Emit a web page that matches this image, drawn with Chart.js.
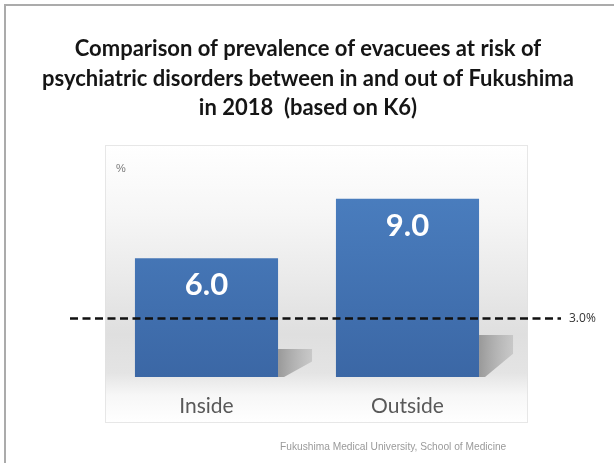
<!DOCTYPE html>
<html>
<head>
<meta charset="utf-8">
<script src="https://cdn.jsdelivr.net/npm/chart.js@4/dist/chart.umd.min.js"></script>
<style>
  html, body { margin: 0; padding: 0; background: #ffffff; }
  #wrap { width: 614px; height: 463px; }
</style>
</head>
<body>
<div id="wrap"><canvas id="c" width="614" height="463"></canvas></div>
<script>
// Data
const categories = ['Inside', 'Outside'];
const prevalence = [6.0, 9.0];
const referenceLevel = 3.0;
const referenceLabel = '3.0%';
const titleLines = [
  'Comparison of prevalence of evacuees at risk of',
  'psychiatric disorders between in and out of Fukushima',
  'in 2018  (based on K6)'
];
const unitLabel = '%';
const sourceNote = 'Fukushima Medical University, School of Medicine';

// Light frame around the slide and the centred title block
const framePlugin = {
  id: 'frame',
  beforeDraw(chart) {
    const ctx = chart.ctx;
    ctx.save();
    ctx.fillStyle = '#ffffff';
    ctx.fillRect(0, 0, chart.width, chart.height);
    ctx.strokeStyle = '#ababab';
    ctx.lineWidth = 2;
    ctx.beginPath();
    ctx.moveTo(5, chart.height);
    ctx.lineTo(5, 5);
    ctx.lineTo(chart.width, 5);
    ctx.stroke();

    ctx.fillStyle = '#151515';
    ctx.font = 'bold 22px Lato, sans-serif';
    ctx.textAlign = 'center';
    ctx.textBaseline = 'middle';
    titleLines.forEach((line, i) => {
      ctx.fillText(line, chart.width / 2 + 1, 49 + i * 29.5);
    });
    ctx.restore();
  }
};

// Soft gradient panel behind the plot
const panelPlugin = {
  id: 'panel',
  beforeDraw(chart) {
    const { ctx, chartArea } = chart;
    if (!chartArea) return;
    const x0 = chartArea.left - 1, x1 = chartArea.right + 20;
    const y0 = chartArea.top - 34, y1 = chartArea.bottom + 46;
    ctx.save();
    const g = ctx.createLinearGradient(0, y0, 0, y1);
    g.addColorStop(0, '#ffffff');
    g.addColorStop(0.25, '#f6f6f6');
    g.addColorStop(0.5, '#e9e9e9');
    g.addColorStop(0.68, '#dfdfdf');
    g.addColorStop(0.82, '#e4e4e4');
    g.addColorStop(0.9, '#f7f7f7');
    g.addColorStop(1, '#ffffff');
    ctx.fillStyle = g;
    ctx.fillRect(x0, y0, x1 - x0, y1 - y0);
    ctx.strokeStyle = 'rgba(225,225,225,0.8)';
    ctx.lineWidth = 1;
    ctx.strokeRect(x0 + 0.5, y0 + 0.5, x1 - x0 - 1, y1 - y0 - 1);

    // unit label
    ctx.fillStyle = '#7a7a7a';
    ctx.font = '11px "Liberation Sans", Arial, sans-serif';
    ctx.textAlign = 'left';
    ctx.textBaseline = 'middle';
    ctx.fillText(unitLabel, x0 + 11, y0 + 24);
    ctx.restore();
  },
  // perspective shadows cast to the right of each bar
  beforeDatasetsDraw(chart) {
    const ctx = chart.ctx;
    const meta = chart.getDatasetMeta(0);
    ctx.save();
    meta.data.forEach(bar => {
      const right = bar.x + bar.width / 2;
      const h = bar.base - bar.y;
      const top = bar.base - h * 0.235;
      const mid = bar.base - h * 0.13;
      const w = 34;
      const sg = ctx.createLinearGradient(right, 0, right + w, 0);
      sg.addColorStop(0, 'rgba(145,145,145,0.9)');
      sg.addColorStop(1, 'rgba(180,180,180,0.55)');
      ctx.fillStyle = sg;
      ctx.beginPath();
      ctx.moveTo(right, top);
      ctx.lineTo(right + w, top);
      ctx.lineTo(right + w, mid);
      ctx.lineTo(right + 6, bar.base);
      ctx.lineTo(right, bar.base);
      ctx.closePath();
      ctx.fill();
    });
    ctx.restore();
  }
};

// Value labels, reference line and source note
const overlayPlugin = {
  id: 'overlay',
  afterDatasetsDraw(chart) {
    const ctx = chart.ctx;
    const yScale = chart.scales.y;
    const meta = chart.getDatasetMeta(0);
    ctx.save();
    ctx.fillStyle = '#ffffff';
    ctx.font = 'bold 31px Lato, sans-serif';
    ctx.textAlign = 'center';
    ctx.textBaseline = 'middle';
    meta.data.forEach((bar, i) => {
      ctx.fillText(prevalence[i].toFixed(1), bar.x, bar.y + 27);
    });

    const yRef = Math.round(yScale.getPixelForValue(referenceLevel)) + 0.5;
    ctx.strokeStyle = '#111111';
    ctx.lineWidth = 2.6;
    ctx.setLineDash([8, 4.5]);
    ctx.beginPath();
    ctx.moveTo(70, yRef);
    ctx.lineTo(561, yRef);
    ctx.stroke();
    ctx.setLineDash([]);

    ctx.fillStyle = '#333333';
    ctx.font = '12px "Open Sans", sans-serif';
    ctx.textAlign = 'left';
    ctx.fillText(referenceLabel, 569, yRef);

    ctx.fillStyle = '#9a9a9a';
    ctx.font = '10.2px "Liberation Sans", Arial, sans-serif';
    ctx.fillText(sourceNote, 280, 447);
    ctx.restore();
  }
};

const ctx = document.getElementById('c').getContext('2d');
new Chart(ctx, {
  type: 'bar',
  data: {
    labels: categories,
    datasets: [{
      data: prevalence,
      backgroundColor(c) {
        const area = c.chart.chartArea;
        if (!area) return '#4472b4';
        const g = c.chart.ctx.createLinearGradient(0, area.top, 0, area.bottom);
        g.addColorStop(0, '#4b7fc0');
        g.addColorStop(1, '#3b67a5');
        return g;
      },
      borderWidth: 0,
      barPercentage: 0.712,
      categoryPercentage: 1.0
    }]
  },
  options: {
    responsive: false,
    animation: false,
    layout: { padding: { left: 106, right: 106, top: 179, bottom: 0 } },
    plugins: {
      legend: { display: false },
      tooltip: { enabled: false },
      title: { display: false }
    },
    scales: {
      x: {
        grid: { display: false, drawTicks: false },
        border: { display: false },
        ticks: {
          color: '#595959',
          font: { family: 'Lato, sans-serif', size: 21 },
          padding: 17
        },
        afterFit(scale) { scale.height = 86; }
      },
      y: {
        display: false,
        min: 0,
        max: 10
      }
    }
  },
  plugins: [framePlugin, panelPlugin, overlayPlugin]
});
</script>
</body>
</html>
